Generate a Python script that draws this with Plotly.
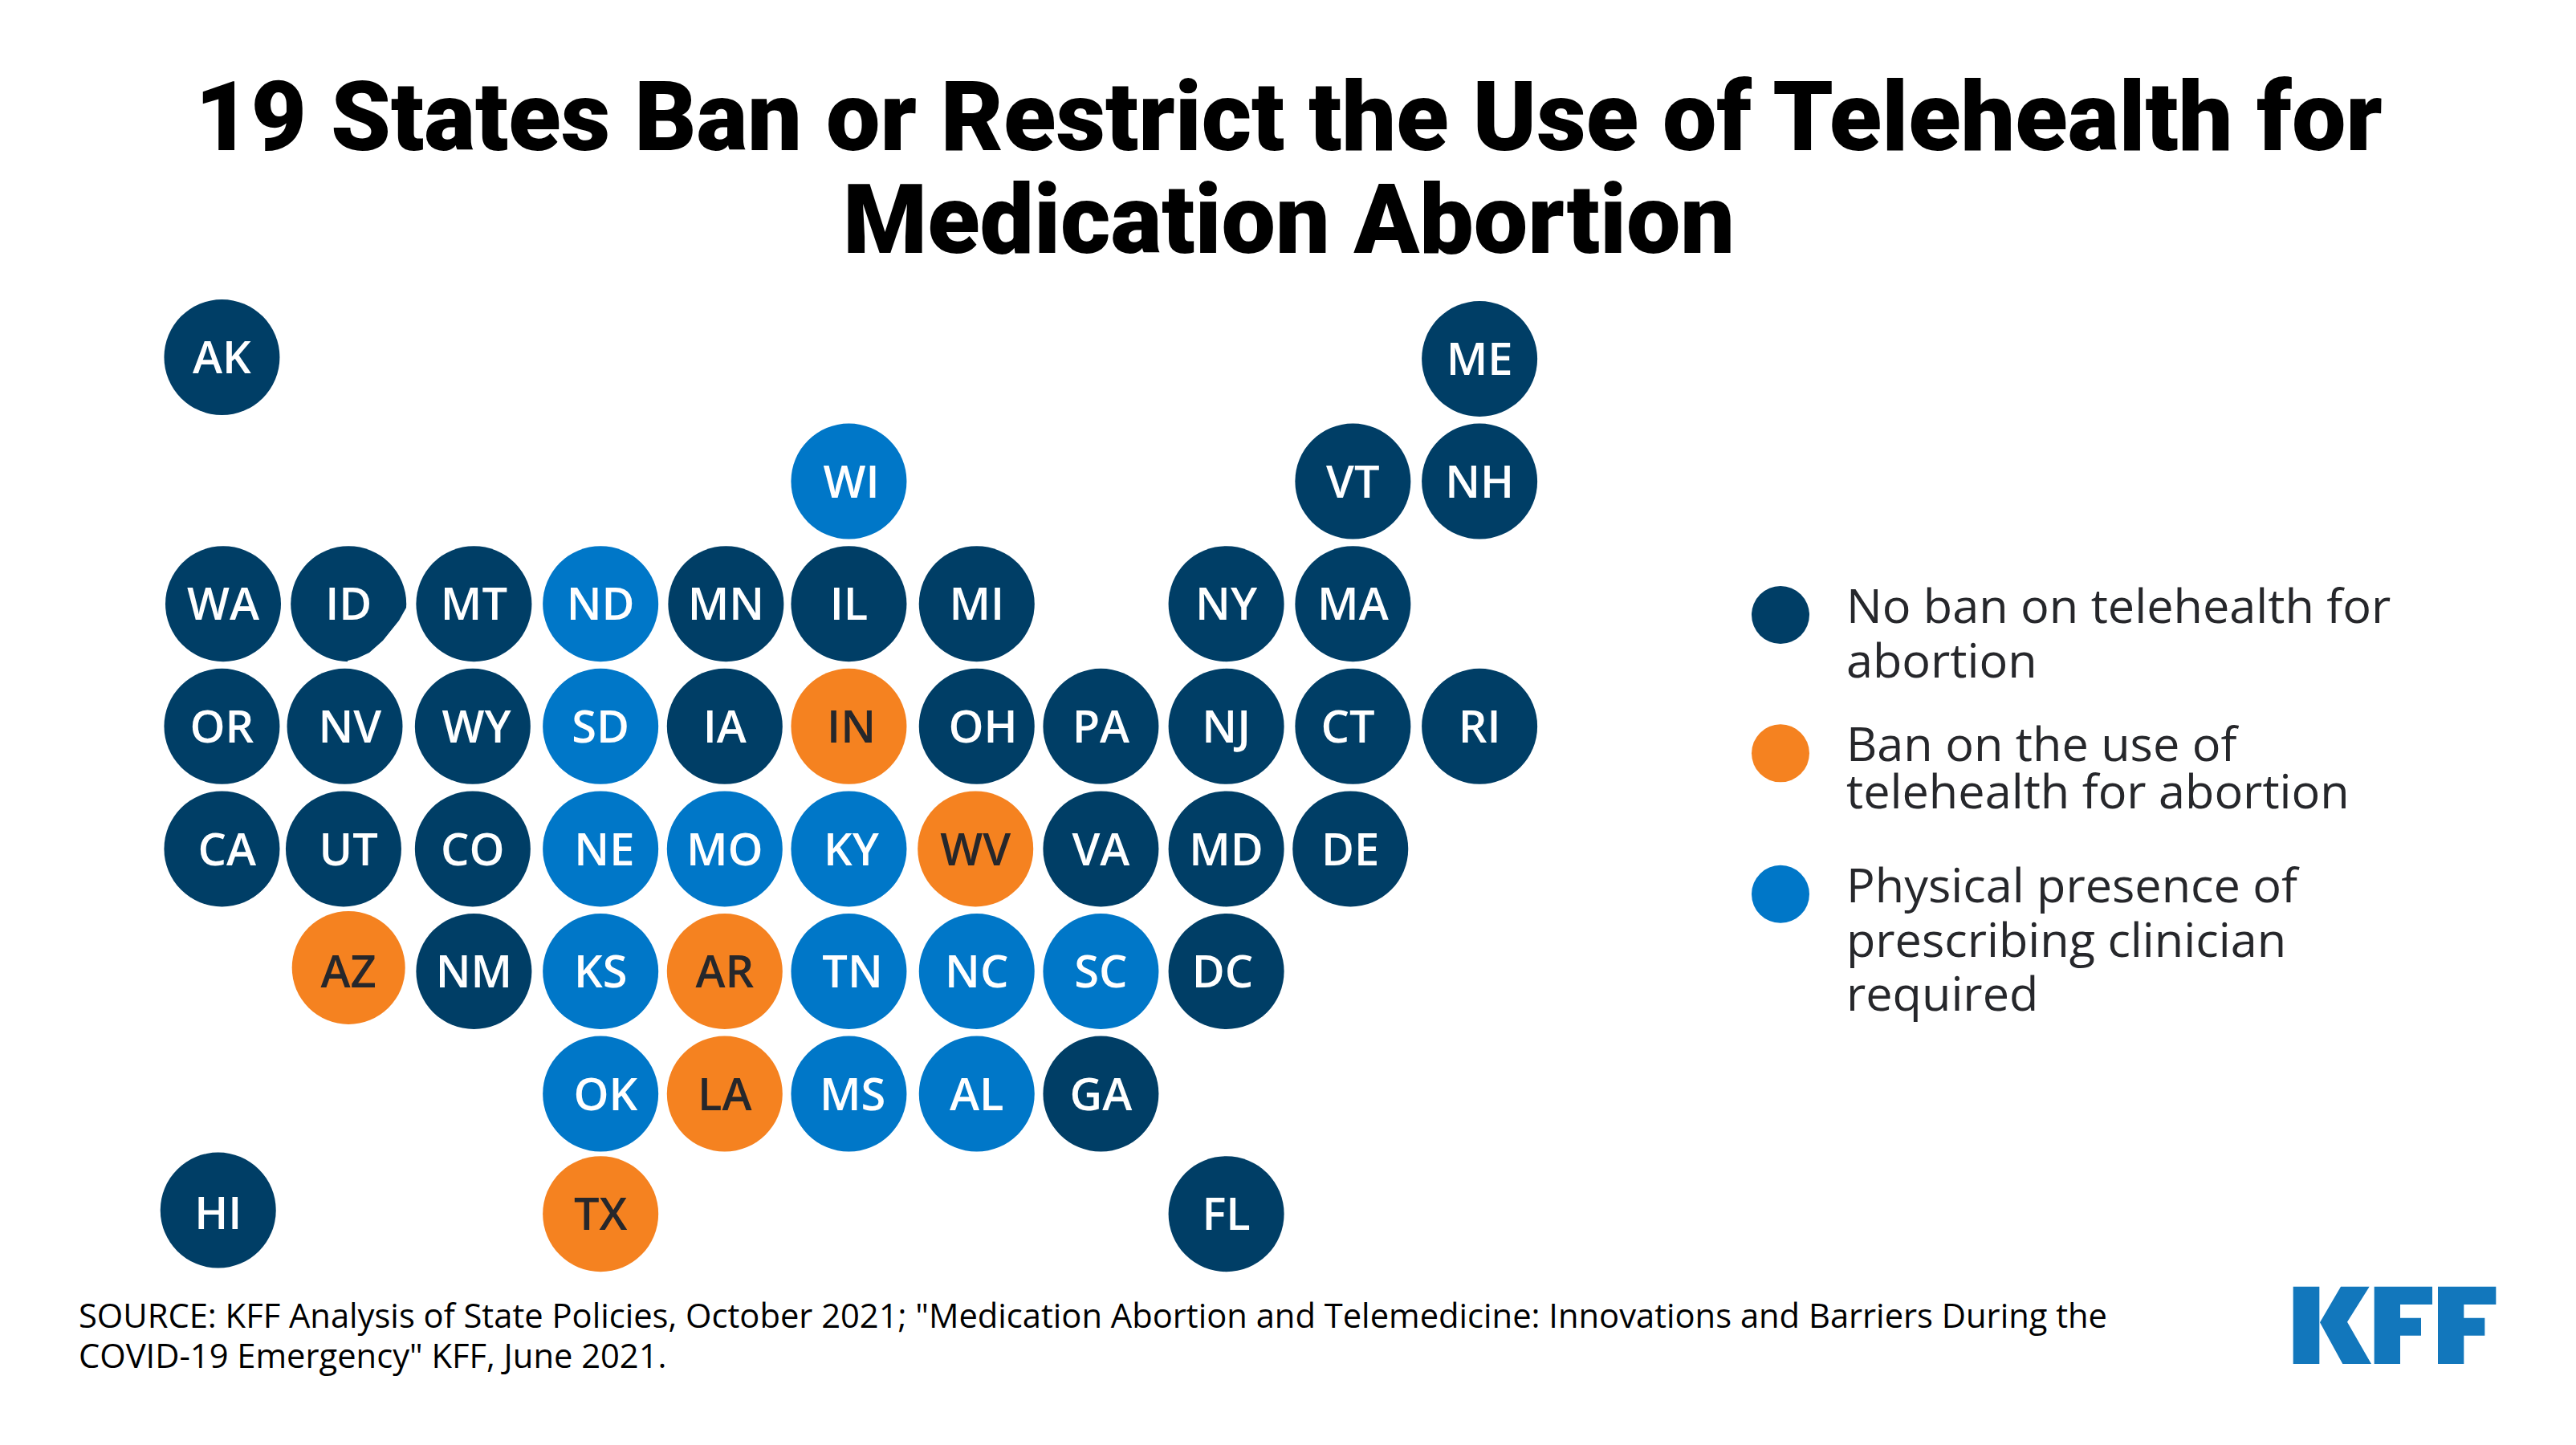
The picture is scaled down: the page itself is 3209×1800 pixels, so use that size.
import plotly.graph_objects as go

W, H = 3209, 1800
PAGE_GAP = 8  # the page body keeps an 8px margin round the plot

# tile grid (columns / rows, small offsets kept)
states = ["AK", "ME",
          "WI", "VT", "NH",
          "WA", "ID", "MT", "ND", "MN", "IL", "MI", "NY", "MA",
          "OR", "NV", "WY", "SD", "IA", "IN", "OH", "PA", "NJ", "CT", "RI",
          "CA", "UT", "CO", "NE", "MO", "KY", "WV", "VA", "MD", "DE",
          "AZ", "NM", "KS", "AR", "TN", "NC", "SC", "DC",
          "OK", "LA", "MS", "AL", "GA",
          "HI", "TX", "FL"]
cols = [-0.01, 10.02,
        4.99, 9.01, 10.02,
        0, 1, 2, 3.01, 4.01, 4.99, 6.01, 8, 9.01,
        -0.01, 0.97, 1.99, 3.01, 4, 4.99, 6.01, 7, 8, 9.01, 10.02,
        -0.01, 0.96, 1.99, 3.01, 4, 4.99, 6, 7, 8, 8.99,
        1, 2, 3.01, 4, 4.99, 6.01, 7, 8,
        3.01, 4, 4.99, 6.01, 7,
        -0.04, 3.01, 8]
rows = [-0.013, 0,
        1, 1, 1,
        2, 2, 2, 2, 2, 2, 2, 2, 2,
        3, 3, 3, 3, 3, 3, 3, 3, 3, 3, 3,
        4, 4, 4, 4, 4, 4, 4, 4, 4, 4,
        4.97, 5, 5, 5, 5, 5, 5, 5,
        6, 6, 6, 6, 6,
        6.95, 6.98, 6.98]
# 0 = no ban, 1 = ban, 2 = physical presence required
policy = [0, 0,
          2, 0, 0,
          0, 0, 0, 2, 0, 0, 0, 0, 0,
          0, 0, 0, 2, 0, 1, 0, 0, 0, 0, 0,
          0, 0, 0, 2, 2, 2, 1, 0, 0, 0,
          1, 0, 2, 1, 2, 2, 2, 0,
          2, 1, 2, 2, 0,
          0, 1, 0]
# labels that sit off their tile centre, in columns and rows
label_nudge = {"CA": 0.04, "NE": 0.03, "OH": 0.05, "OK": 0.04, "UT": 0.04, "NV": 0.04, "WY": 0.03,
               "CT": -0.04, "DC": -0.03, "TN": 0.03, "MS": 0.03, "KY": 0.02, "IN": 0.02, "WI": 0.02}
label_drop = {"AZ": 0.07, "HI": 0.06}

policy_colors = ["#003E66", "#F58220", "#0077C8"]
label_colors = ["#FFFFFF", "#26272B", "#FFFFFF"]

legend_col = [12.42, 12.42, 12.42]
legend_row = [2.09, 3.22, 4.37]

title_lines = ["19 States Ban or Restrict the Use of Telehealth for", "Medication Abortion"]
legend_lines = [("No ban on telehealth for", 753), ("abortion", 821),
                ("Ban on the use of", 925), ("telehealth for abortion", 984),
                ("Physical presence of", 1101), ("prescribing clinician", 1169), ("required", 1236)]
source_lines = ["SOURCE: KFF Analysis of State Policies, October 2021; \"Medication Abortion and Telemedicine: Innovations and Barriers During the",
                "COVID-19 Emergency\" KFF, June 2021."]

# pixel helpers for things that sit on the page rather than the grid
fig_w, fig_h = W - 2 * PAGE_GAP, H - 2 * PAGE_GAP

def px(v):
    return (v - PAGE_GAP) / fig_w

def py(v):
    return 1 - (v - PAGE_GAP) / fig_h

def poly(points):
    return "M " + " L ".join(f"{px(2800 + a / 3):.5f},{py(1570 + b / 3):.5f}" for a, b in points) + " Z"

fig = go.Figure()

fig.add_trace(go.Scatter(
    x=cols, y=rows, mode="markers",
    marker=dict(size=[141 if s == "AZ" else 144 for s in states], opacity=1,
                color=[policy_colors[p] for p in policy], line=dict(width=0)),
    showlegend=False, hoverinfo="skip"))

fig.add_trace(go.Scatter(
    x=[c + label_nudge.get(s, 0) for c, s in zip(cols, states)],
    y=[r + label_drop.get(s, 0.04) for r, s in zip(rows, states)],
    mode="text", text=states, textposition="middle center",
    textfont=dict(family="Open Sans", size=56, weight=600, color=[label_colors[p] for p in policy]),
    showlegend=False, hoverinfo="text"))

fig.add_trace(go.Scatter(
    x=legend_col, y=legend_row, mode="markers",
    marker=dict(size=72, color=policy_colors, opacity=1, line=dict(width=0)),
    showlegend=False, hoverinfo="skip"))

annotations = []
for line, y in zip(title_lines, [146, 274]):
    annotations.append(dict(text=line, x=px(1605), y=py(y), xref="paper", yref="paper",
                            xanchor="center", yanchor="middle", showarrow=False,
                            font=dict(family="Roboto", size=120, weight=900, color="#000000")))
for line, y in legend_lines:
    annotations.append(dict(text=line, x=px(2298), y=py(y), xref="paper", yref="paper",
                            xanchor="left", yanchor="middle", showarrow=False,
                            font=dict(family="Open Sans", size=59.4, color="#26272B")))
for line, y in zip(source_lines, [1637, 1687]):
    annotations.append(dict(text=line, x=px(96), y=py(y), xref="paper", yref="paper",
                            xanchor="left", yanchor="middle", showarrow=False,
                            font=dict(family="Open Sans", size=41.7, color="#000000")))

shapes = []
# the ID tile has its lower right side flattened
notch = [(506, 757), (497, 773), (477, 798), (460, 813), (445, 820), (433, 823), (433, 829), (514, 829), (514, 757)]
notch_path = "M " + " L ".join(f"{px(a):.5f},{py(b):.5f}" for a, b in notch) + " Z"
shapes.append(dict(type="path", path=notch_path, xref="paper", yref="paper",
                   fillcolor="#FFFFFF", line=dict(width=0)))
# KFF logo
logo = [[(170, 98), (268, 98), (268, 387), (170, 387)],
        [(348, 98), (455, 98), (372, 230), (462, 387), (355, 387), (270, 232)],
        [(473, 98), (690, 98), (690, 165), (570, 165), (570, 215), (648, 215), (648, 281), (570, 281), (570, 387), (473, 387)],
        [(711, 98), (928, 98), (928, 165), (808, 165), (808, 215), (886, 215), (886, 281), (808, 281), (808, 387), (711, 387)]]
for letter in logo:
    shapes.append(dict(type="path", path=poly(letter), xref="paper", yref="paper",
                       fillcolor="#1277BC", line=dict(width=0)))

# grid spacing on the page: 156.2px across, 152.6px down, first tile centred at (278, 447)
x0 = -(278 - PAGE_GAP) / 156.2
y0 = -(447 - PAGE_GAP) / 152.6

fig.update_layout(
    width=fig_w, height=fig_h, autosize=False,
    margin=dict(l=0, r=0, t=0, b=0),
    paper_bgcolor="#FFFFFF", plot_bgcolor="rgba(0,0,0,0)",
    xaxis=dict(range=[x0, x0 + fig_w / 156.2], visible=False, fixedrange=True),
    yaxis=dict(range=[y0 + fig_h / 152.6, y0], visible=False, fixedrange=True),
    annotations=annotations, shapes=shapes)

fig.write_html("out.html")
